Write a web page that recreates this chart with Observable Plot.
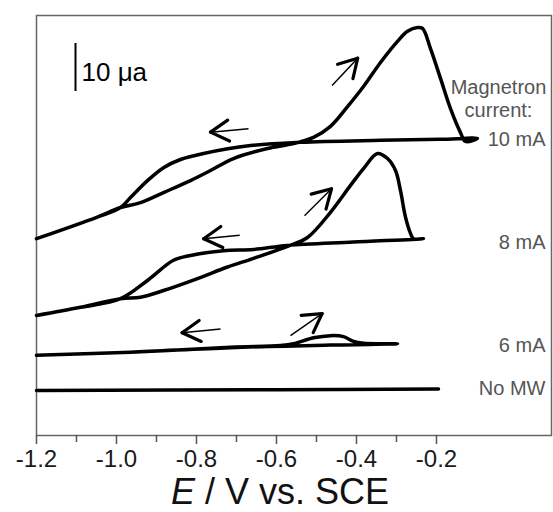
<!DOCTYPE html>
<html><head><meta charset="utf-8">
<script src="https://cdn.jsdelivr.net/npm/d3@7"></script>
<script src="https://cdn.jsdelivr.net/npm/@observablehq/plot@0.6"></script>
<style>
body{margin:0;background:#fff;}
#wrap{position:relative;width:553px;height:512px;}
#xtitle{position:absolute;left:0;width:560px;top:474px;text-align:center;font-family:"Liberation Sans",Arial,sans-serif;font-size:36px;line-height:36px;color:#111;}
</style></head><body>
<div id="wrap"><div id="xtitle"><i>E</i> / V vs. SCE</div></div>
<script>
// ---- data (E in V vs SCE, current in µA incl. vertical offsets) ----
const e10 = [-1.2,-1.048,-0.99,-0.94,-0.8825,-0.815,-0.765,-0.7075,-0.6225,-0.5575,-0.5075,-0.465,-0.4225,-0.3825,-0.34,-0.2975,-0.2725,-0.2475,-0.235,-0.215,-0.19,-0.165,-0.14,-0.1275,-0.0975,
             -0.19,-0.34,-0.54,-0.665,-0.7825,-0.84,-0.8825,-0.9225,-0.965,-0.99,-1.048,-1.2];
const i10 = [41.0,45.5,47.5,48.5,50.6,53.1,55.2,57.7,59.8,60.8,62.1,64.4,68.5,72.7,77.7,82.1,84.2,85.0,84.8,80.6,74.4,68.1,63.1,61.25,61.9,
             61.7,61.5,61.1,60.4,58.75,57.5,55.8,53.1,49.6,47.5,45.5,41.0];
const e8 = [-1.2,-1.09,-0.99,-0.94,-0.8825,-0.7975,-0.7225,-0.6575,-0.5725,-0.5225,-0.465,-0.415,-0.3825,-0.3475,-0.3225,-0.3025,-0.29,-0.2775,-0.265,-0.2575,-0.2325,
            -0.4075,-0.5725,-0.6575,-0.7325,-0.815,-0.8575,-0.9225,-0.99,-1.09,-1.2];
const i8 = [25.0,26.7,28.5,28.8,30.2,32.7,35.1,36.9,39.4,41.25,46.5,52.1,55.6,58.75,57.7,55.2,51.0,45.5,42.1,41.0,41.0,
            40.3,39.6,38.75,38.5,37.5,36.5,32.3,28.5,26.7,25.0];
const e6 = [-1.2,-0.965,-0.715,-0.59,-0.5575,-0.5075,-0.465,-0.4325,-0.4075,-0.3825,-0.2975,
            -0.465,-0.715,-0.965,-1.2];
const i6 = [16.7,17.35,18.4,18.75,19.1,20.35,20.8,20.6,19.6,19.2,19.1,
            18.85,18.3,17.35,16.7];
const e0 = [-1.2,-0.6,-0.195];
const i0 = [9.4,9.55,9.7];

const seriesNames = ["10 mA","8 mA","6 mA","No MW"];
const seriesE = [e10,e8,e6,e0];
const seriesI = [i10,i8,i6,i0];

// scan-direction arrows: tail (E1,I1) -> tip (E2,I2)
const arrE1 = [-0.67,-0.461,-0.692,-0.53,-0.74,-0.565];
const arrI1 = [63.9,72.9,41.7,45.8,22.2,20.8];
const arrE2 = [-0.765,-0.397,-0.782,-0.4625,-0.836,-0.486];
const arrI2 = [63.2,78.6,41.0,51.4,21.4,25.4];

// labels on the right
const headText = ["Magnetron","current:"];
const headI = [72.5,67.6];
const labelText = ["10 mA","8 mA","6 mA","No MW"];
const labelI = [61.75,40.2,18.7,9.7];

// 10 µA scale bar
const barE = -1.1025, barFrom = 71.67, barSize = 10;
const barText = "10 μa";

const majorTicks = [-1.2,-1.0,-0.8,-0.6,-0.4,-0.2];
const minorTicks = [-1.1,-0.9,-0.7,-0.5,-0.3];

// ---- layout ----
const W = 553, H = 512, mL = 36, mR = 2, mT = 15, mB = 77;
const xDom = [-1.2, 0.0875], yDom = [0, 87.5];
const sx = (W - mL - mR) / (xDom[1] - xDom[0]);
const sy = (H - mT - mB) / (yDom[1] - yDom[0]);

const rows = seriesNames.flatMap((n, s) => seriesE[s].map((e, k) => ({series: n, E: e, I: seriesI[s][k]})));
const arrows = arrE1.map((e, k) => ({E1: e, I1: arrI1[k], E2: arrE2[k], I2: arrI2[k]}));
const wings = arrows.flatMap(a => {
  const th = Math.atan2(-(a.I2 - a.I1) * sy, (a.E2 - a.E1) * sx) * 180 / Math.PI;
  return [-30, 30].map(d => ({E: a.E2, I: a.I2, r: th + 180 + d + 90}));
});
const line = {draw(ctx, l) { ctx.moveTo(0, 0); ctx.lineTo(0, -l); }};

const chart = Plot.plot({
  width: W, height: H,
  marginLeft: mL, marginRight: mR, marginTop: mT, marginBottom: mB,
  style: {fontFamily: "'Liberation Sans', Arial, sans-serif", background: "#fff"},
  x: {domain: xDom},
  y: {domain: yDom, axis: null},
  marks: [
    Plot.frame({stroke: "#666", strokeWidth: 1.5}),
    Plot.axisX({ticks: majorTicks, tickSize: 9, tickPadding: 5, tickFormat: d => d.toFixed(1), fontSize: 24, fill: "#1a1a1a", stroke: "#555", strokeWidth: 1.5, label: null}),
    Plot.axisX({ticks: minorTicks, tickSize: 7, tickFormat: () => "", stroke: "#555", strokeWidth: 1.5, label: null}),
    Plot.line(rows, {x: "E", y: "I", z: "series", stroke: "#000", strokeWidth: 3.5, curve: "catmull-rom", strokeLinejoin: "round", strokeLinecap: "round"}),
    Plot.link(arrows, {x1: "E1", y1: "I1", x2: "E2", y2: "I2", stroke: "#000", strokeWidth: 1.5}),
    Plot.vector(wings, {x: "E", y: "I", rotate: "r", length: 21, anchor: "start", shape: line, stroke: "#000", strokeWidth: 3.2, strokeLinecap: "round"}),
    Plot.ruleX([barE], {y1: barFrom, y2: barFrom + barSize, stroke: "#000", strokeWidth: 2}),
    Plot.text([barText], {x: barE + 0.015, y: barFrom + 3.9, text: d => d, textAnchor: "start", fontSize: 26, fill: "#000"}),
    Plot.text(headText, {y: (d, k) => headI[k], text: d => d, frameAnchor: "right", dx: -53, textAnchor: "middle", fontSize: 20, fill: "#555"}),
    Plot.text(labelText, {y: (d, k) => labelI[k], text: d => d, frameAnchor: "right", dx: -6, textAnchor: "end", fontSize: 20, fill: "#555"})
  ]
});
document.getElementById("wrap").prepend(chart);
</script>
</body></html>
